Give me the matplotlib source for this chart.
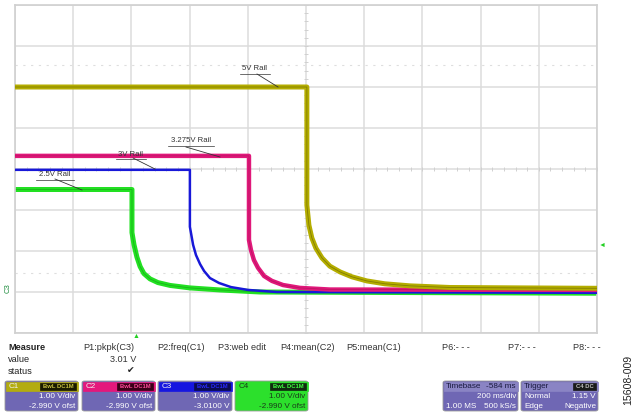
import matplotlib
matplotlib.use("Agg")
import matplotlib.pyplot as plt
from matplotlib.patches import FancyBboxPatch, Rectangle
import numpy as np

plt.rcParams['font.family'] = ['Liberation Sans', 'DejaVu Sans']

# ---- data (time in ms, level in V, 200 ms/div, 1 V/div) ----
c1_t = [0, 1003, 1003, 1010, 1020, 1034, 1055, 1082, 1117, 1158, 1209, 1271, 1357, 1495, 1735, 2000]
c1_v = [5.0, 5.0, 2.12, 1.63, 1.32, 1.07, 0.83, 0.63, 0.49, 0.37, 0.27, 0.20, 0.15, 0.11, 0.10, 0.09]

c2_t = [0, 804, 804, 811, 821, 835, 856, 883, 921, 979, 1082, 2000]
c2_v = [3.32, 3.32, 1.27, 1.02, 0.78, 0.59, 0.39, 0.27, 0.17, 0.10, 0.06, 0.05]

c3_t = [0, 601, 601, 612, 622, 636, 650, 670, 701, 742, 801, 900, 2000]
c3_v = [2.98, 2.98, 1.59, 1.15, 0.90, 0.68, 0.51, 0.34, 0.22, 0.12, 0.05, 0.0, -0.02]

c4_t = [0, 402, 402, 409, 419, 430, 443, 464, 491, 533, 601, 704, 842, 2000]
c4_v = [2.5, 2.5, 1.45, 1.15, 0.85, 0.62, 0.45, 0.32, 0.23, 0.16, 0.10, 0.05, 0.0, -0.03]

rail_labels = ["5V Rail", "3.275V Rail", "3V Rail", "2.5V Rail"]

measure_params = ["P1:pkpk(C3)", "P2:freq(C1)", "P3:web edit", "P4:mean(C2)",
                  "P5:mean(C1)", "P6:- - -", "P7:- - -", "P8:- - -"]

W, H = 640, 413
fig = plt.figure(figsize=(6.4, 4.13), dpi=100)
fig.patch.set_facecolor('white')

L, T, R, B = 15, 5, 597, 333
ax = fig.add_axes([L / W, 1 - B / H, (R - L) / W, (B - T) / H])
ax.set_xlim(0, 2000)
ax.set_ylim(-1, 7)
ax.set_xticks(np.arange(0, 2001, 200))
ax.set_yticks(np.arange(-1, 7.01, 1))
ax.tick_params(length=0, labelbottom=False, labelleft=False)
ax.grid(True, color='#dcdcdc', lw=1.1)
for s in ax.spines.values():
    s.set_color('#d0d0d0')
    s.set_linewidth(1.2)
ax.set_axisbelow(True)

def px(x, y):
    return ((x - L) * 2000 / (R - L), (292 - y) / 41.0)

# faint dotted rows
for yy in (65, 273):
    ax.axhline(px(0, yy)[1], color='#dedede', lw=0.8, ls=(0, (2, 5)), zorder=0.5)

# center minor ticks
cx, cy = 1000, 3.0
ax.plot([cx] * 41, np.linspace(-1, 7, 41), ls='none', marker='_', ms=3, mew=0.7, color='#d0d0d0', zorder=0.6)
ax.plot(np.linspace(0, 2000, 51), [cy] * 51, ls='none', marker='|', ms=3, mew=0.7, color='#d0d0d0', zorder=0.6)

# traces
ax.plot(c4_t, c4_v, color='#22e022', lw=3.6, solid_joinstyle='round', zorder=2)
ax.plot(c4_t, c4_v, color='#139a13', lw=0.6, alpha=0.6, zorder=2.1)
ax.plot(c3_t, c3_v, color='#1818d8', lw=1.8, zorder=3)
ax.plot(c2_t, c2_v, color='#e0187a', lw=3.2, zorder=4)
ax.plot(c2_t, c2_v, color='#a01050', lw=0.5, alpha=0.6, zorder=4.1)
ax.plot(c1_t, c1_v, color='#b4ad00', lw=3.6, zorder=5)
ax.plot(c1_t, c1_v, color='#6e6a00', lw=0.6, alpha=0.7, zorder=5.1)

# rail labels with leaders
lab_pos = [(255, 69), (191, 141), (131, 154), (55, 175)]
leaders = [((257, 74), (278, 87)), ((186, 147), (220, 157)),
           ((133, 158), (155, 169)), ((55, 179), (82, 190))]
for text, (lx, ly), (p0, p1) in zip(rail_labels, lab_pos, leaders):
    tx, ty = px(lx, ly)
    ax.text(tx, ty, text, fontsize=5.6, color='#333333', ha='center', va='center', zorder=6)
    half = len(text) * 2.1
    ax.plot([px(lx - half, 0)[0], px(lx + half, 0)[0]], [px(0, ly + 4.5)[1]] * 2, color='#333333', lw=0.5, zorder=6)
    a, b = px(*p0), px(*p1)
    ax.plot([a[0], b[0]], [a[1], b[1]], color='#333333', lw=0.6, zorder=6)

# ---- figure level annotations (pixel helper) ----
def fx(x):
    return x / W

def fy(y):
    return 1 - y / H

fig.text(fx(8), fy(288), "C3", rotation=90, fontsize=5.5, color='#1a8a3a', ha='center', va='center')
fig.text(fx(602), fy(245), "◄", fontsize=5, color='#22d022', ha='center', va='center')
fig.text(fx(136), fy(336), "▲", fontsize=5, color='#22d022', ha='center', va='center')

# measure rows
fs = 6.6
fig.text(fx(8), fy(347), "Measure", fontsize=fs, fontweight='bold', color='#222222', va='center')
fig.text(fx(8), fy(359), "value", fontsize=fs, color='#222222', va='center')
fig.text(fx(8), fy(371), "status", fontsize=fs, color='#222222', va='center')
p_x = [83, 157, 218, 280, 346, 442, 508, 573]
for name, x in zip(measure_params, p_x):
    fig.text(fx(x), fy(347), name, fontsize=fs, color='#333333', va='center')
fig.text(fx(136), fy(359), "3.01 V", fontsize=fs, color='#333333', va='center', ha='right')
fig.text(fx(131), fy(371), "✔", fontsize=fs, color='#222222', va='center', ha='center', family=['DejaVu Sans'])

def box(x0, x1, y0, y1, color, ec=None, rounded=True):
    if rounded:
        p = FancyBboxPatch((fx(x0), fy(y1)), fx(x1 - x0), (y1 - y0) / H,
                           boxstyle="round,pad=0,rounding_size=0.004",
                           transform=fig.transFigure, facecolor=color,
                           edgecolor=ec if ec else color, lw=0.6)
    else:
        p = Rectangle((fx(x0), fy(y1)), fx(x1 - x0), (y1 - y0) / H,
                      transform=fig.transFigure, facecolor=color, edgecolor=ec if ec else color, lw=0.5)
    fig.patches.append(p)

bfs = 5.9
purple = '#6f67b4'
channels = [
    ("C1", 5, 78, '#b3ac10', '#1a1a00', '#c8c040', "BwL DC1M", "1.00 V/div", "-2.990 V ofst"),
    ("C2", 82, 155, '#e4187c', '#3a0018', '#ff4a9a', "BwL DC1M", "1.00 V/div", "-2.990 V ofst"),
    ("C3", 158, 232, '#1616e0', '#0c0c50', '#2828ff', "BwL DC1M", "1.00 V/div", "-3.0100 V"),
    ("C4", 235, 308, '#2ce02c', '#102a10', '#40ff40', "BwL DC1M", "1.00 V/div", "-2.990 V ofst"),
]
for name, x0, x1, top, lab_bg, lab_fg, tag, l1, l2 in channels:
    body = '#2ce02c' if name == "C4" else purple
    txtc = '#1a3a1a' if name == "C4" else 'white'
    box(x0, x1, 381, 411, body, ec='#9a9a9a')
    box(x0 + 0.5, x1 - 0.5, 381.5, 391, top, rounded=False)
    box(x1 - 38, x1 - 2, 382.5, 390, lab_bg, rounded=False)
    fig.text(fx(x0 + 4), fy(386.5), name, fontsize=bfs, color='#f0f0f0' if name != "C4" else '#1a3a1a', va='center')
    fig.text(fx(x1 - 20), fy(386.5), tag, fontsize=4.2, color=lab_fg, va='center', ha='center', fontweight='bold')
    fig.text(fx(x1 - 3), fy(397), l1, fontsize=bfs, color=txtc, va='center', ha='right')
    fig.text(fx(x1 - 3), fy(406), l2, fontsize=bfs, color=txtc, va='center', ha='right')

# timebase box
box(443, 518, 381, 411, purple, ec='#9a9a9a')
box(443.5, 517.5, 381.5, 391, '#8a84c4', rounded=False)
fig.text(fx(446), fy(386.5), "Timebase", fontsize=bfs, color='#1a1a40', va='center')
fig.text(fx(516), fy(386.5), "-584 ms", fontsize=bfs, color='#1a1a40', va='center', ha='right')
fig.text(fx(516), fy(397), "200 ms/div", fontsize=bfs, color='white', va='center', ha='right')
fig.text(fx(446), fy(406), "1.00 MS", fontsize=bfs, color='white', va='center')
fig.text(fx(516), fy(406), "500 kS/s", fontsize=bfs, color='white', va='center', ha='right')

# trigger box
box(521, 598, 381, 411, purple, ec='#9a9a9a')
box(521.5, 597.5, 381.5, 391, '#8a84c4', rounded=False)
box(573, 596, 382.5, 390, '#1a1a1a', rounded=False)
fig.text(fx(524), fy(386.5), "Trigger", fontsize=bfs, color='#1a1a40', va='center')
fig.text(fx(584.5), fy(386.5), "C4 DC", fontsize=4.2, color='#c0c0c0', va='center', ha='center', fontweight='bold')
fig.text(fx(524), fy(397), "Normal", fontsize=bfs, color='white', va='center')
fig.text(fx(596), fy(397), "1.15 V", fontsize=bfs, color='white', va='center', ha='right')
fig.text(fx(524), fy(406), "Edge", fontsize=bfs, color='white', va='center')
fig.text(fx(596), fy(406), "Negative", fontsize=bfs, color='white', va='center', ha='right')

fig.text(fx(628), fy(380), "15608-009", rotation=90, fontsize=7.6, color='#222222', ha='center', va='center')

fig.savefig("out.png", dpi=100, facecolor='white')
